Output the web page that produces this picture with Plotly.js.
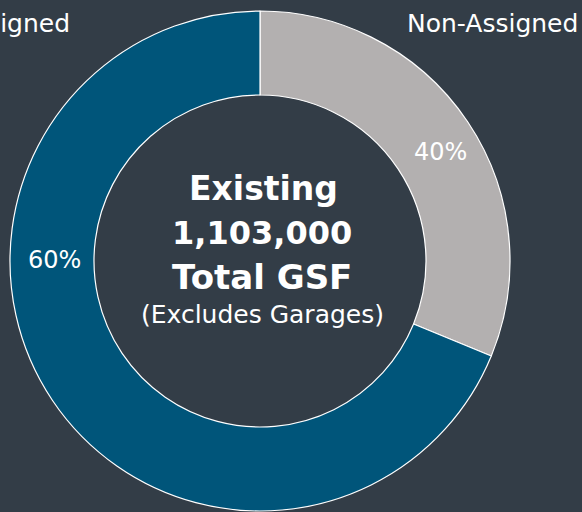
<!DOCTYPE html>
<html>
<head>
<meta charset="utf-8">
<script src="https://cdn.plot.ly/plotly-3.0.1.min.js"></script>
<style>html,body{margin:0;padding:0;background:#333d47;}#chart{width:582px;height:512px;}</style>
</head>
<body>
<div id="chart"></div>
<script>
var labels = ["Non-Assigned", "Assigned"];
var values = [31.2, 68.8];
var pctLabels = ["40%", "60%"];
var colors = ["#b3b0b0", "#00557a"];
var centerLines = ["Existing", "1,103,000", "Total GSF", "(Excludes Garages)"];

var W = 582, H = 512;
function px(x){ return x / W; }
function py(y){ return 1 - y / H; }

var FONT = "DejaVu Sans, sans-serif";

var trace = {
  type: "pie",
  labels: labels,
  values: values,
  sort: false,
  direction: "clockwise",
  rotation: 0,
  hole: 0.664,
  textinfo: "none",
  hoverinfo: "label+text",
  text: pctLabels,
  marker: { colors: colors, line: { color: "#ffffff", width: 1.2 } },
  domain: { x: [px(10), px(510)], y: [py(511), py(11)] },
  showlegend: false
};

var annotations = [
  { text: "Assigned", x: px(72), y: py(23), xanchor: "right", yanchor: "middle", font: { size: 25, color: "#ffffff", family: FONT } },
  { text: "Non-Assigned", x: px(580), y: py(23), xanchor: "right", yanchor: "middle", font: { size: 25, color: "#ffffff", family: FONT } },
  { text: pctLabels[0], x: px(440), y: py(152), xanchor: "center", yanchor: "middle", font: { size: 24, color: "#ffffff", family: FONT } },
  { text: pctLabels[1], x: px(54), y: py(260), xanchor: "center", yanchor: "middle", font: { size: 24, color: "#ffffff", family: FONT } },
  { text: "<b>" + centerLines[0] + "</b>", x: px(263), y: py(188), xanchor: "center", yanchor: "middle", font: { size: 33, color: "#ffffff", family: FONT } },
  { text: "<b>" + centerLines[1] + "</b>", x: px(262), y: py(233), xanchor: "center", yanchor: "middle", font: { size: 32, color: "#ffffff", family: FONT } },
  { text: "<b>" + centerLines[2] + "</b>", x: px(262), y: py(277), xanchor: "center", yanchor: "middle", font: { size: 34, color: "#ffffff", family: FONT } },
  { text: centerLines[3], x: px(262), y: py(314), xanchor: "center", yanchor: "middle", font: { size: 25, color: "#ffffff", family: FONT } }
];
annotations.forEach(function(a){ a.xref = "paper"; a.yref = "paper"; a.showarrow = false; });

var layout = {
  width: W, height: H,
  margin: { l: 0, r: 0, t: 0, b: 0 },
  paper_bgcolor: "#333d47",
  plot_bgcolor: "#333d47",
  annotations: annotations
};

Plotly.newPlot("chart", [trace], layout, { displayModeBar: false, staticPlot: true });
</script>
</body>
</html>
